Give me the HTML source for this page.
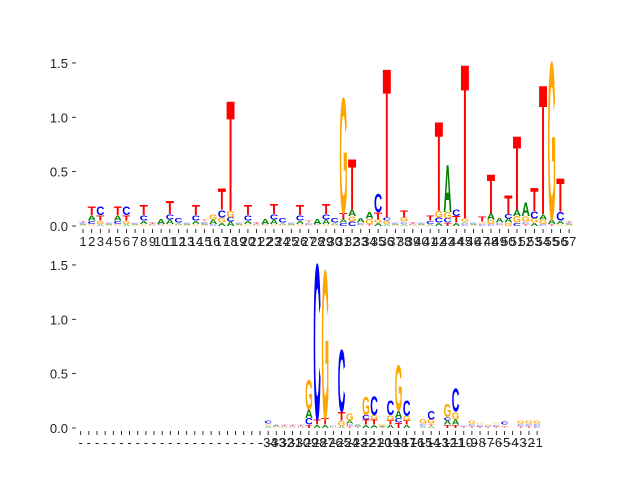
<!DOCTYPE html>
<html><head><meta charset="utf-8"><style>
body{margin:0;background:#fff}
svg{display:block;font-family:"Liberation Sans","DejaVu Sans",sans-serif}
</style></head><body>
<svg id="chart" width="640" height="480"></svg>
<script>
// Top logo: positions 1..57, stacks bottom->top [letter, bits]
const topLabels = Array.from({length:57},(_,i)=>String(i+1));
const topStacks = [
 [["G",.01],["A",.01],["C",.01],["T",.01]],
 [["G",.02],["C",.03],["A",.05],["T",.08]],
 [["A",.02],["G",.03],["T",.05],["C",.08]],
 [["G",.01],["A",.01],["C",.01]],
 [["G",.02],["C",.03],["A",.05],["T",.08]],
 [["A",.02],["G",.03],["T",.05],["C",.08]],
 [["G",.01],["A",.01],["C",.01]],
 [["G",.02],["A",.03],["C",.05],["T",.1]],
 [["G",.01],["C",.01],["T",.02]],
 [["G",.01],["C",.01],["A",.05]],
 [["G",.02],["A",.04],["C",.05],["T",.12]],
 [["G",.01],["A",.02],["C",.04]],
 [["G",.01],["A",.01],["C",.01]],
 [["G",.02],["A",.03],["C",.05],["T",.1]],
 [["G",.01],["A",.01],["C",.02],["T",.02]],
 [["C",.02],["A",.04],["G",.05]],
 [["A",.03],["G",.05],["C",.07],["T",.2]],
 [["A",.04],["C",.04],["G",.06],["T",1.05]],
 [["G",.01],["A",.01],["C",.01]],
 [["G",.02],["A",.03],["C",.05],["T",.1]],
 [["G",.01],["C",.01],["T",.02]],
 [["G",.01],["C",.01],["A",.05]],
 [["G",.02],["A",.04],["C",.05],["T",.1]],
 [["G",.01],["A",.02],["C",.04]],
 [["G",.01],["A",.01],["C",.01]],
 [["G",.02],["A",.03],["C",.05],["T",.1]],
 [["G",.01],["C",.02],["T",.02]],
 [["G",.01],["C",.01],["A",.05]],
 [["G",.02],["A",.04],["C",.05],["T",.1]],
 [["G",.01],["A",.02],["C",.04]],
 [["C",.03],["A",.03],["T",.06],["G",1.1]],
 [["C",.04],["G",.05],["A",.06],["T",.48]],
 [["G",.01],["C",.02],["A",.04]],
 [["T",.02],["G",.05],["A",.06]],
 [["A",.03],["G",.03],["T",.07],["C",.17]],
 [["A",.02],["G",.03],["C",.03],["T",1.42]],
 [["G",.01],["A",.01],["C",.01]],
 [["A",.02],["C",.02],["G",.04],["T",.07]],
 [["G",.01],["C",.01],["T",.02]],
 [["G",.01],["A",.01],["C",.01]],
 [["A",.02],["C",.03],["T",.05]],
 [["A",.03],["C",.05],["G",.06],["T",.85]],
 [["T",.03],["C",.04],["G",.06],["A",.45]],
 [["A",.03],["T",.06],["C",.06]],
 [["C",.02],["A",.02],["G",.03],["T",1.47]],
 [["G",.01],["A",.01],["C",.01]],
 [["C",.02],["G",.02],["T",.05]],
 [["C",.02],["G",.04],["A",.06],["T",.37]],
 [["G",.01],["C",.02],["A",.04]],
 [["G",.03],["A",.04],["C",.04],["T",.18]],
 [["C",.03],["G",.06],["A",.06],["T",.7]],
 [["T",.02],["C",.02],["G",.05],["A",.13]],
 [["A",.03],["G",.04],["C",.07],["T",.22]],
 [["C",.02],["G",.04],["A",.05],["T",1.23]],
 [["T",.02],["A",.04],["G",1.5]],
 [["G",.02],["A",.03],["C",.08],["T",.32]],
 [["G",.01],["A",.01],["C",.01],["T",.01]]
];
// Bottom logo: 57 slots, data from slot 23
const botLabels = Array.from({length:57},(_,i)=> i<23 ? "-" : String(i-57));
const botStacks = Array.from({length:23},()=>[]).concat([
 [["A",.02],["G",.02],["C",.03]],
 [["G",.01],["C",.01],["A",.01]],
 [["G",.01],["C",.01],["T",.01]],
 [["G",.01],["C",.01],["T",.01]],
 [["G",.01],["C",.01],["T",.01]],
 [["T",.03],["C",.06],["A",.08],["G",.28]],
 [["A",.03],["T",.05],["C",1.48]],
 [["A",.03],["T",.06],["G",1.41]],
 [["G",.01],["C",.01]],
 [["A",.02],["G",.05],["T",.08],["C",.59]],
 [["T",.02],["C",.02],["A",.03],["G",.07]],
 [["T",.01],["C",.01],["A",.02]],
 [["A",.03],["T",.05],["C",.04],["G",.17]],
 [["A",.03],["T",.05],["G",.04],["C",.18]],
 [["T",.01],["A",.01],["G",.02]],
 [["A",.03],["T",.04],["G",.05],["C",.14]],
 [["T",.05],["C",.04],["A",.07],["G",.43]],
 [["A",.03],["T",.04],["G",.04],["C",.15]],
 [],
 [["A",.02],["C",.02],["G",.04]],
 [["A",.02],["T",.02],["G",.04],["C",.08]],
 [],
 [["T",.03],["A",.04],["C",.03],["G",.12]],
 [["T",.03],["A",.05],["G",.07],["C",.22]],
 [["T",.01],["C",.01]],
 [["T",.02],["C",.02],["G",.03]],
 [["T",.01],["C",.02],["G",.02]],
 [["T",.01],["C",.01],["G",.02]],
 [["T",.01],["C",.02],["G",.02]],
 [["T",.01],["G",.02],["C",.03]],
 [],
 [["T",.02],["C",.02],["G",.03]],
 [["T",.02],["C",.02],["G",.03]],
 [["C",.02],["C",.02],["G",.03]]
]);
const yTicks = [0,0.5,1.0,1.5];
const colors = {A:"#008000",C:"#0000ff",G:"#ffa500",T:"#ff0000"};

const NS="http://www.w3.org/2000/svg";
const svg=document.getElementById('chart');
function mk(tag,attrs,parent){const e=document.createElementNS(NS,tag);for(const k in attrs)e.setAttribute(k,attrs[k]);(parent||svg).appendChild(e);return e;}

function drawPanel(name,stacks,labels,x0,dx,base,unit,lw,labelY){
  const g=mk('g',{});
  
  
  const xs=i=>x0+i*dx, ys=v=>base-v*unit;
  yTicks.forEach(t=>{
    const tk=mk('line',{x1:72,x2:76,y1:ys(t),y2:ys(t),stroke:'#000','stroke-width':0.8},g);
    
    
    const tl=mk('text',{x:68,y:ys(t)+5,'text-anchor':'end','font-size':13,fill:'#222'},g);
    tl.textContent=t.toFixed(1);
    
    
  });
  labels.forEach((lab,i)=>{
    const tk=mk('line',{x1:xs(i),x2:xs(i),y1:base+3,y2:base+7,stroke:'#000','stroke-width':0.8},g);
    
    
    const tl=mk('text',{x:xs(i),y:labelY,'text-anchor':'middle','font-size':13,fill:'#222'},g);
    tl.textContent=lab;
    
    
  });
  stacks.forEach((st,i)=>{
    let acc=0;
    st.forEach(([L,h])=>{
      if(h<=0)return;
      const t=mk('text',{x:0,y:0,'font-size':100,'font-weight':'bold',fill:colors[L]},g);
      t.textContent=L;
      
      
      const bb=t.getBBox();
      const y1=ys(acc+h), y0=ys(acc);
      const hh=Math.max(y0-y1,0.3);
      const sx=lw/bb.width;
      const capH=72;
      const syy=hh/capH;
      t.setAttribute('transform',`translate(${xs(i)-lw/2},${y0}) scale(${sx},${syy}) translate(${-bb.x},0)`);
      if(h<0.03)t.setAttribute('opacity','0.5');
      acc+=h;
    });
  });
}
drawPanel('top-logo',topStacks,topLabels,83,8.68,226,108.7,8.2,246);
drawPanel('bottom-logo',botStacks,botLabels,80.7,8.15,428,108.7,7.6,447);
</script>
</body></html>
